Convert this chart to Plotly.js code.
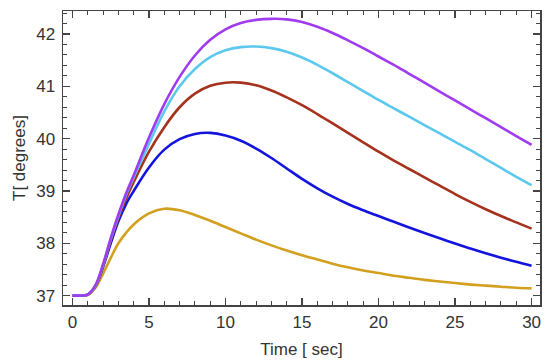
<!DOCTYPE html>
<html>
<head>
<meta charset="utf-8">
<script src="https://cdn.plot.ly/plotly-3.0.1.min.js"></script>
<style>html,body{margin:0;padding:0;background:#fff;}#chart{width:550px;height:363px;}</style>
</head>
<body>
<div id="chart"></div>
<script>
var time = [0,0.5,1,1.5,2,2.5,3,3.5,4,5,6,7,8,9,10,11,12,13,14,15,16,17,18,19,20,21,22,23,24,25,26,27,28,29,30];
var tempMagenta = [37,37,37.02,37.2,37.6,38.1,38.55,38.95,39.3,40.02,40.66,41.18,41.59,41.89,42.09,42.21,42.27,42.29,42.28,42.23,42.14,42.02,41.88,41.73,41.57,41.41,41.24,41.07,40.9,40.73,40.56,40.39,40.22,40.05,39.88];
var tempCyan = [37,37,37.02,37.19,37.59,38.08,38.52,38.92,39.26,39.9,40.52,41.0,41.33,41.56,41.69,41.75,41.76,41.73,41.66,41.55,41.41,41.25,41.08,40.91,40.74,40.58,40.42,40.26,40.1,39.94,39.78,39.61,39.44,39.27,39.11];
var tempRed = [37,37,37.02,37.18,37.57,38.05,38.48,38.85,39.17,39.75,40.22,40.6,40.86,41.01,41.07,41.07,41.02,40.92,40.79,40.64,40.47,40.29,40.11,39.93,39.75,39.58,39.42,39.26,39.1,38.94,38.79,38.65,38.52,38.4,38.28];
var tempBlue = [37,37,37.02,37.18,37.55,38.0,38.42,38.75,39.0,39.45,39.79,39.99,40.09,40.11,40.06,39.96,39.81,39.63,39.43,39.23,39.05,38.89,38.75,38.63,38.52,38.41,38.3,38.195,38.095,37.995,37.9,37.81,37.725,37.645,37.57];
var tempOrange = [37,37,37.01,37.15,37.42,37.72,38.0,38.2,38.36,38.57,38.66,38.63,38.54,38.43,38.31,38.19,38.07,37.96,37.86,37.77,37.69,37.61,37.54,37.48,37.43,37.38,37.34,37.3,37.27,37.24,37.21,37.19,37.17,37.15,37.14];
var xTicks = [0,5,10,15,20,25,30];
var yTicks = [37,38,39,40,41,42];

function tr(y, color){
  return {x: time, y: y, mode: 'lines', line: {color: color, width: 2.6, shape: 'spline', smoothing: 1}, hoverinfo: 'none'};
}
var data = [
  tr(tempOrange, '#d2a01e'),
  tr(tempBlue, '#1414dc'),
  tr(tempRed, '#a5321c'),
  tr(tempCyan, '#5cc8ee'),
  tr(tempMagenta, '#a03cf0')
];
var font = {family: 'Liberation Sans, Arial, sans-serif', size: 17, color: '#333'};
var axisCommon = {
  showgrid: false, zeroline: false, showline: true, linecolor: '#444', linewidth: 1.5,
  mirror: 'allticks', ticks: 'inside', ticklen: 7, tickwidth: 1.2, tickcolor: '#444',
  tickfont: font
};
var layout = {
  width: 550, height: 363,
  margin: {l: 63, r: 10, t: 11, b: 58},
  paper_bgcolor: '#fff', plot_bgcolor: '#fff',
  showlegend: false,
  font: font,
  xaxis: Object.assign({}, axisCommon, {
    range: [-0.62, 30.55], tickvals: xTicks, ticktext: xTicks.map(String),
    minor: {dtick: 1, tick0: 0, ticks: 'inside', ticklen: 4, tickcolor: '#444', tickwidth: 1},
    ticklabelstandoff: 1,
    title: {text: 'Time [ sec]', font: font, standoff: 12}
  }),
  yaxis: Object.assign({}, axisCommon, {
    range: [36.82, 42.44], tickvals: yTicks, ticktext: yTicks.map(String),
    minor: {dtick: 0.2, tick0: 37, ticks: 'inside', ticklen: 4, tickcolor: '#444', tickwidth: 1},
    ticklabelstandoff: 3,
    title: {text: 'T[ degrees]', font: font, standoff: 6}
  })
};
Plotly.newPlot('chart', data, layout, {staticPlot: true, displayModeBar: false});
</script>
</body>
</html>
